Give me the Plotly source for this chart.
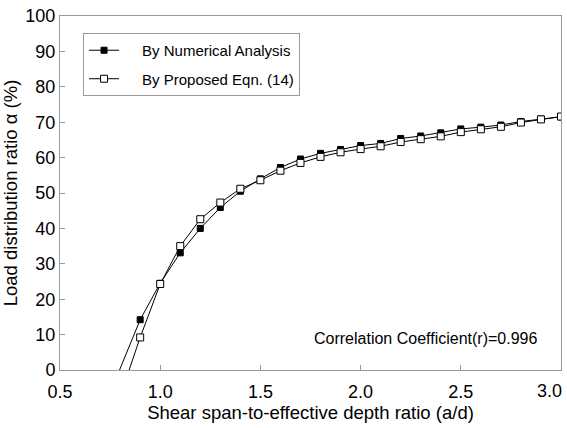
import plotly.graph_objects as go

# Data
x_num = [0.7, 0.9, 1.0, 1.1, 1.2, 1.3, 1.4, 1.5, 1.6, 1.7, 1.8, 1.9, 2.0, 2.1, 2.2, 2.3, 2.4, 2.5, 2.6, 2.7, 2.8, 2.9, 3.0]
y_num = [-13.4, 14.2, 24.5, 33.1, 40.0, 45.9, 50.5, 54.0, 57.2, 59.6, 61.2, 62.3, 63.4, 64.0, 65.4, 66.1, 67.0, 68.1, 68.6, 69.2, 70.2, 70.9, 71.5]

x_eqn = [0.8, 0.9, 1.0, 1.1, 1.2, 1.3, 1.4, 1.5, 1.6, 1.7, 1.8, 1.9, 2.0, 2.1, 2.2, 2.3, 2.4, 2.5, 2.6, 2.7, 2.8, 2.9, 3.0]
y_eqn = [-7.5, 9.2, 24.3, 35.0, 42.6, 47.3, 51.2, 53.6, 56.3, 58.5, 60.2, 61.5, 62.4, 63.2, 64.4, 65.2, 66.0, 67.2, 68.0, 68.7, 69.9, 70.8, 71.6]

x_ticks = [0.5, 1.0, 1.5, 2.0, 2.5, 3.0]
x_ticktext = ["0.5", "1.0", "1.5", "2.0", "2.5", ""]
y_ticks = [0, 10, 20, 30, 40, 50, 60, 70, 80, 90, 100]

FONT = "Liberation Sans, Arial, sans-serif"
PAD = "\u2003\u2009"

fig = go.Figure()
fig.add_trace(go.Scatter(
    x=x_num, y=y_num, mode="lines+markers", name=PAD + "By Numerical Analysis",
    legendgroup="num",
    line=dict(color="black", width=1),
    marker=dict(symbol="square", size=6, color="black", line=dict(color="black", width=1)),
))
fig.add_trace(go.Scatter(
    x=x_eqn, y=y_eqn, mode="lines+markers", name=PAD + "By Proposed Eqn. (14)",
    legendgroup="eqn",
    line=dict(color="black", width=1),
    marker=dict(symbol="square", size=7, color="white", line=dict(color="black", width=1)),
))

axis_common = dict(
    showline=True, linecolor="#999999", linewidth=1, mirror=True,
    ticks="inside", ticklen=5, tickcolor="#999999", tickwidth=1,
    showgrid=False, zeroline=False,
    tickfont=dict(family=FONT, size=18, color="black"),
    title_font=dict(family=FONT, size=18.5, color="black"),
)

fig.update_xaxes(
    range=[0.5, 3.0], tickvals=x_ticks, ticktext=x_ticktext,
    ticklabelstandoff=5,
    title_text="Shear span-to-effective depth ratio (a/d)", title_standoff=3,
    **axis_common,
)
fig.update_yaxes(
    range=[0, 100], tickvals=y_ticks,
    title_text="Load distribution ratio α (%)", title_standoff=6,
    **axis_common,
)

fig.add_annotation(
    x=3.0, xref="x", y=0, yref="paper", yshift=-9, xshift=3,
    xanchor="right", yanchor="top", showarrow=False,
    text="3.0", font=dict(family=FONT, size=18, color="black"),
)
fig.add_annotation(
    x=0.73, xref="paper", y=9, yref="y", xanchor="center", yanchor="middle",
    showarrow=False, text="Correlation Coefficient(r)=0.996",
    font=dict(family=FONT, size=16, color="black"),
)

fig.update_layout(
    width=567, height=428,
    margin=dict(l=60, r=6, t=16, b=58),
    paper_bgcolor="white", plot_bgcolor="white",
    showlegend=True,
    legend=dict(
        x=0.046, y=0.952, xanchor="left", yanchor="top",
        bgcolor="white", bordercolor="#999999", borderwidth=1,
        font=dict(family=FONT, size=15, color="black"),
        itemwidth=30, tracegroupgap=6,
    ),
)

fig.write_html("out.html")
